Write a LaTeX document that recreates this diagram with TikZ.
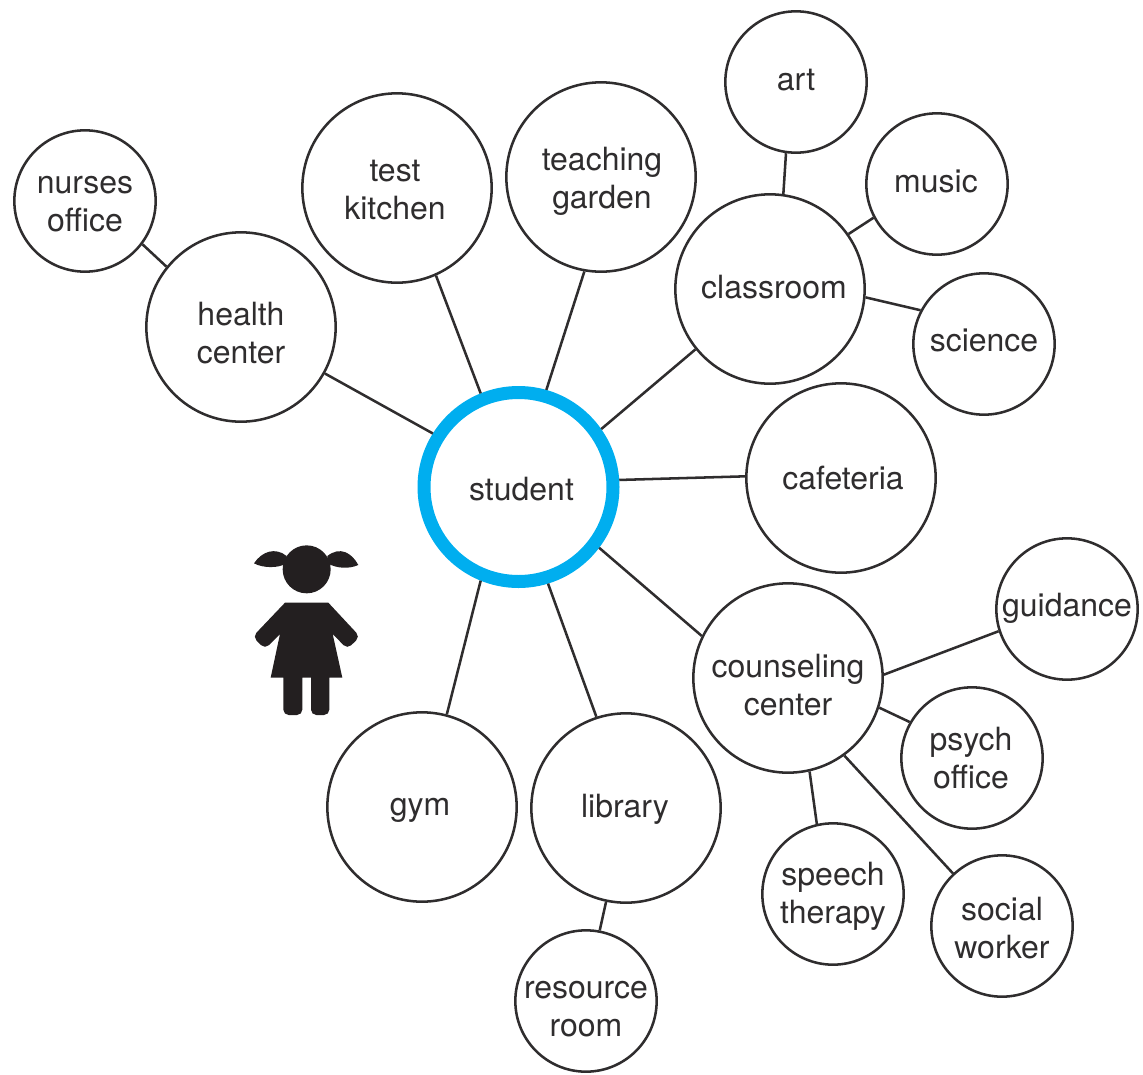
\documentclass[tikz,border=0pt]{standalone}
\usepackage{fontspec}
\setmainfont{TeX Gyre Heros}
\definecolor{inkgray}{HTML}{2F2D2E}
\definecolor{ringblue}{HTML}{00AEEF}
\definecolor{girlblack}{HTML}{231F20}
\tikzset{
  word/.style={inner sep=0pt,align=center,text=inkgray,font=\fontsize{24}{28.5}\selectfont},
  says/.style n args={3}{label={[word,xshift=#1*0.75pt,yshift=#2*-0.75pt]center:{#3}}},
  place/.style={circle,draw=inkgray,line width=1.9pt,inner sep=0pt},
  bigplace/.style={place,minimum size=142pt},
  smallplace/.style={place,minimum size=106pt},
  link/.style={draw=inkgray,line width=1.9pt}
}
\begin{document}
\begin{tikzpicture}[x=0.75pt,y=-0.75pt]
    \useasboundingbox (0,0) rectangle (1143,1075);
    \node[place,draw=ringblue,line width=9.75pt,minimum size=141.75pt,says={3}{2}{student}] (student) at (518.5,487) {};
    \node[bigplace,says={0}{6.5}{health\\center}] (health) at (241,327) {};
    \node[bigplace,says={-2}{2.5}{test\\kitchen}] (kitchen) at (397,188) {};
    \node[bigplace,says={1}{4.5}{teaching\\garden}] (garden) at (601,177) {};
    \node[bigplace,says={4}{-2}{classroom}] (classroom) at (770,289) {};
    \node[bigplace,says={2}{0}{cafeteria}] (cafeteria) at (841,478) {};
    \node[bigplace,says={0}{7}{counseling\\center}] (counseling) at (788,678) {};
    \node[bigplace,says={-1}{1}{library}] (library) at (626,808) {};
    \node[bigplace,says={-2}{3}{gym}] (gym) at (422,807) {};
    \node[smallplace,says={0}{3.5}{nurses\\office}] (nurses) at (85,201) {};
    \node[smallplace,says={0}{-2}{art}] (art) at (796,82) {};
    \node[smallplace,says={-1}{-3}{music}] (music) at (937,184) {};
    \node[smallplace,says={0}{-4}{science}] (science) at (984,344) {};
    \node[smallplace,says={0}{-1}{guidance}] (guidance) at (1067,609) {};
    \node[smallplace,says={-1}{0}{psych\\office}] (psych) at (972,758) {};
    \node[smallplace,says={0}{2.5}{social\\worker}] (social) at (1002,926) {};
    \node[smallplace,says={0}{2}{speech\\therapy}] (speech) at (833,894) {};
    \node[smallplace,says={0}{8}{resource\\room}] (resource) at (586,1001) {};
    \foreach \a/\b in {student.148/health.-29,student.112/kitchen.-66,student.74/garden.-100,
      student.35/classroom.219,student.4.5/cafeteria.179.5,student.-37/counseling.154,
      student.-73/library.108,student.248/gym.75,nurses.-37/health.141,art.-98/classroom.82,
      music.208/classroom.35,science.152/classroom.-5,guidance.198/counseling.2,
      psych.150/counseling.-18,social.133/counseling.-54,speech.103/counseling.-77,
      resource.79/library.-102}
    \draw[link] (\a) -- (\b);
    \begin{scope}[shift={(230,530)},x=0.25pt,y=-0.25pt]
      \fill[girlblack] (230,118) circle (72);
      \fill[girlblack] (170,78) .. controls (135,50) and (95,65) .. (72,100) .. controls (100,115) and (145,115) .. (170,100) -- cycle;
      \fill[girlblack] (292,78) .. controls (330,48) and (365,68) .. (385,105) .. controls (355,118) and (320,115) .. (292,100) -- cycle;
      \fill[girlblack] (165,218) -- (295,218) [rounded corners=4pt] -- (390,320) -- (352,357) [sharp corners] -- (308,312) -- (337,443) -- (298,443)
        [rounded corners=4pt] -- (298,555) -- (243,555) [sharp corners] -- (243,443) -- (217,443) [rounded corners=4pt] -- (217,555) -- (160,555) [sharp corners] -- (160,443) -- (122,443) -- (150,312)
        [rounded corners=4pt] -- (105,357) -- (68,320) [sharp corners] -- cycle;
    \end{scope}
\end{tikzpicture}
\end{document}
